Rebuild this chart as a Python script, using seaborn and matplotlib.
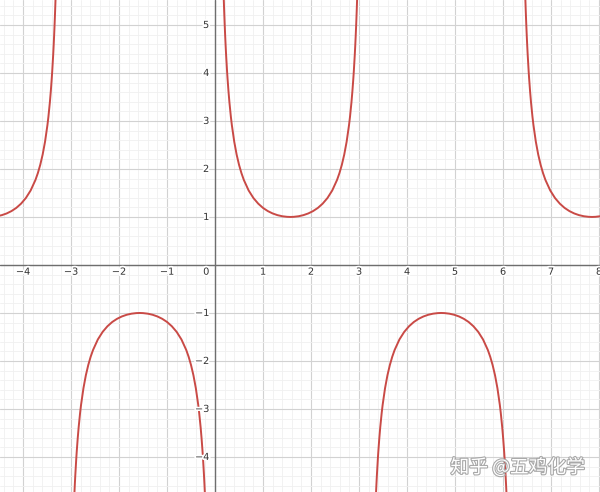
import numpy as np
import pandas as pd
import matplotlib
matplotlib.use("Agg")
import matplotlib.pyplot as plt
import matplotlib.patheffects as pe
import seaborn as sns

# ==========================================
# data: one half-branch of y = csc(x)
# (offset t from the asymptote, |y| value)
# ==========================================
T_OFFSET = [0.15, 0.16, 0.17, 0.18, 0.19, 0.20, 0.21, 0.22, 0.23, 0.25, 0.26,
            0.28, 0.30, 0.33, 0.35, 0.40, 0.45, 0.50, 0.55, 0.60, 0.70, 0.80,
            0.90, 1.00, 1.10, 1.20, 1.30, 1.40, 1.50, 1.5708]
Y_ABS = [6.692, 6.277, 5.911, 5.586, 5.295, 5.033, 4.797, 4.582, 4.386, 4.042,
         3.890, 3.619, 3.384, 3.086, 2.916, 2.568, 2.299, 2.086, 1.913, 1.771,
         1.552, 1.394, 1.277, 1.188, 1.122, 1.073, 1.038, 1.015, 1.003, 1.000]

# branches: start (asymptote) and sign
BRANCH_START = [-2 * np.pi, -np.pi, 0.0, np.pi, 2 * np.pi]
BRANCH_SIGN = [1, -1, 1, -1, 1]

X_TICKS = [-4, -3, -2, -1, 1, 2, 3, 4, 5, 6, 7, 8]
Y_TICKS = [-4, -3, -2, -1, 1, 2, 3, 4, 5]

# ==========================================
# build a long table for seaborn
# ==========================================
half_t = np.array(T_OFFSET)
half_y = np.array(Y_ABS)
full_t = np.concatenate([half_t, (np.pi - half_t[::-1])[1:]])
full_y = np.concatenate([half_y, half_y[::-1][1:]])

rows = []
for i, (start, sign) in enumerate(zip(BRANCH_START, BRANCH_SIGN)):
    for t, y in zip(full_t, full_y):
        rows.append({"x": start + t, "y": sign * y, "branch": i})
df = pd.DataFrame(rows)

# ==========================================
# plot
# ==========================================
sns.set_style("white")
fig = plt.figure(figsize=(6.0, 4.92), dpi=100)
ax = fig.add_axes([0, 0, 1, 1])

ax.set_xlim(-4.48, 8.02)
ax.set_ylim(-4.73, 5.52)

# grid
ax.set_xticks(np.arange(-4, 9, 1))
ax.set_yticks(np.arange(-4, 6, 1))
ax.set_xticks(np.arange(-4.4, 8.1, 0.2), minor=True)
ax.set_yticks(np.arange(-4.6, 5.6, 0.2), minor=True)
ax.grid(which="major", color="#d2d2d2", linewidth=0.8)
ax.grid(which="minor", color="#f0f0f0", linewidth=0.6)
ax.tick_params(which="both", length=0, labelbottom=False, labelleft=False)
for s in ax.spines.values():
    s.set_visible(False)
ax.set_axisbelow(True)

ax.axhline(0, color="#6e6e6e", linewidth=1.0, zorder=2)
ax.axvline(0, color="#6e6e6e", linewidth=1.0, zorder=2)

sns.lineplot(data=df, x="x", y="y", units="branch", estimator=None, sort=False,
             color="#c94a46", linewidth=1.4, ax=ax, zorder=3)
ax.set_xlabel("")
ax.set_ylabel("")

# axis number labels, desmos style
halo = [pe.withStroke(linewidth=2.5, foreground="white")]
for v in X_TICKS:
    ax.text(v, -0.14, "\u2212" + str(-v) if v < 0 else str(v), ha="center", va="center",
            fontsize=7, color="#333333", path_effects=halo, zorder=4)
for v in Y_TICKS:
    ax.text(-0.12, v, "\u2212" + str(-v) if v < 0 else str(v), ha="right", va="center",
            fontsize=7, color="#333333", path_effects=halo, zorder=4)
ax.text(-0.12, -0.14, "0", ha="right", va="center", fontsize=7, color="#333333",
        path_effects=halo, zorder=4)

# watermark
ax.text(0.975, 0.05, "知乎 @五鸡化学", transform=ax.transAxes, ha="right", va="center",
        fontsize=13.5, color="white", family=["Noto Sans CJK SC", "DejaVu Sans"],
        path_effects=[pe.withStroke(linewidth=1.6, foreground="#a8a8a8")], zorder=5)

fig.savefig("out.png", dpi=100)
